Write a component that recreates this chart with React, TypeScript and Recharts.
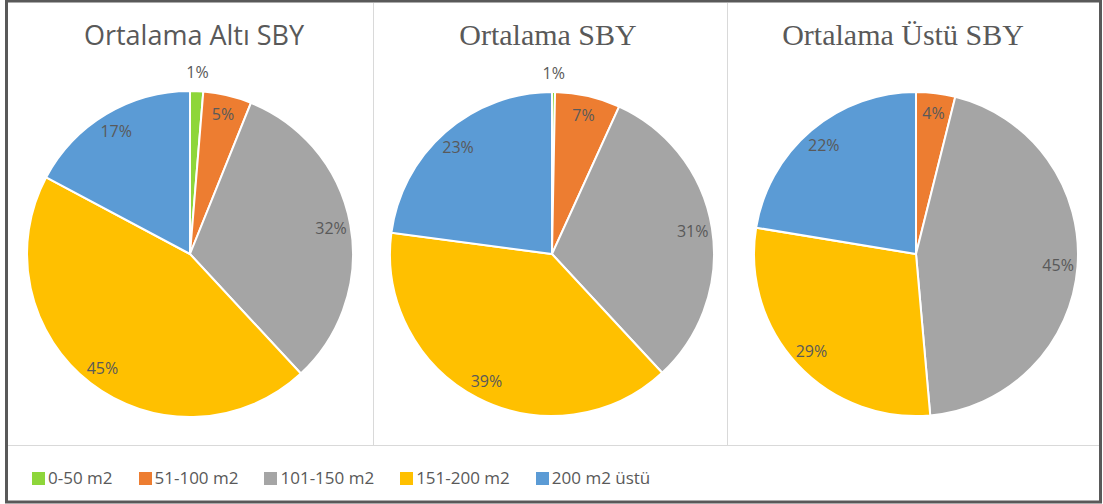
import { Pie, PieChart, Cell } from "recharts";

const categories = ["0-50 m2", "51-100 m2", "101-150 m2", "151-200 m2", "200 m2 üstü"];
const COLORS = ["#8ED63A", "#ED7D31", "#A5A5A5", "#FFC000", "#5B9BD5"];

const titles = ["Ortalama Altı SBY", "Ortalama SBY", "Ortalama Üstü SBY"];

// slice shares (%)
const altiValues = [1.3, 4.8, 32.0, 44.7, 17.2];
const ortaValues = [0.3, 6.5, 31.3, 39.0, 22.9];
const ustuValues = [0, 3.9, 44.7, 29.0, 22.4];

// printed data labels
const altiLabels = ["1%", "5%", "32%", "45%", "17%"];
const ortaLabels = ["1%", "7%", "31%", "39%", "23%"];
const ustuLabels = ["", "4%", "45%", "29%", "22%"];

const toRows = (values: number[]) => categories.map((name, i) => ({ name, value: values[i] }));

const RAD = Math.PI / 180;
const TEXT = "#595959";

const makeLabel = (labels: string[]) => (p: any) => {
  const { cx, cy, midAngle, outerRadius, index, percent } = p;
  if (!labels[index]) return null;
  const r = percent < 0.02 ? outerRadius + 19 : outerRadius * 0.88;
  const x = cx + r * Math.cos(-midAngle * RAD);
  const y = cy + r * Math.sin(-midAngle * RAD);
  return (
    <text x={x} y={y} fill={TEXT} fontSize={16} fontFamily="Open Sans" textAnchor="middle" dominantBaseline="central">
      {labels[index]}
    </text>
  );
};

const pies = [
  { values: altiValues, labels: altiLabels, cx: 190, r: 163 },
  { values: ortaValues, labels: ortaLabels, cx: 552, r: 162 },
  { values: ustuValues, labels: ustuLabels, cx: 916, r: 162 },
];

export default function App() {
  return (
    <div style={{ position: "absolute", left: 0, top: 0, width: 1103, height: 504, background: "#fff" }}>
      <PieChart
        width={1103}
        height={504}
        margin={{ top: 0, right: 0, bottom: 0, left: 0 }}
        style={{ position: "absolute", left: 0, top: 0 }}
      >
        {pies.map((p, k) => (
          <Pie
            key={k}
            data={toRows(p.values)}
            dataKey="value"
            nameKey="name"
            cx={p.cx}
            cy={254}
            outerRadius={p.r}
            startAngle={90}
            endAngle={-270}
            stroke="#fff"
            strokeWidth={2}
            labelLine={false}
            label={makeLabel(p.labels)}
            isAnimationActive={false}
          >
            {p.values.map((_, i) => (
              <Cell key={i} fill={COLORS[i]} />
            ))}
          </Pie>
        ))}
      </PieChart>

      <svg width={1103} height={504} style={{ position: "absolute", left: 0, top: 0, pointerEvents: "none" }}>
        <line x1={373.5} y1={3} x2={373.5} y2={445} stroke="#d9d9d9" />
        <line x1={727.5} y1={3} x2={727.5} y2={445} stroke="#d9d9d9" />
        <line x1={8} y1={445.5} x2={1099} y2={445.5} stroke="#d9d9d9" />
        <rect x={6.5} y={1} width={1094} height={501} fill="none" stroke="#595959" strokeWidth={3} />
        <text x={194} y={45} textAnchor="middle" fontFamily="Open Sans" fontSize={27} fill={TEXT}>
          {titles[0]}
        </text>
        <text x={548} y={45} textAnchor="middle" fontFamily="Liberation Serif" fontSize={30} fill={TEXT}>
          {titles[1]}
        </text>
        <text x={903} y={45} textAnchor="middle" fontFamily="Liberation Serif" fontSize={30} fill={TEXT}>
          {titles[2]}
        </text>
      </svg>

      <div
        style={{
          position: "absolute",
          left: 32,
          top: 469,
          height: 18,
          display: "flex",
          alignItems: "center",
          gap: 26,
          fontFamily: "Open Sans",
          fontSize: 17,
          color: TEXT,
        }}
      >
        {categories.map((c, i) => (
          <div key={c} style={{ display: "flex", alignItems: "center", gap: 3 }}>
            <span style={{ width: 13, height: 13, background: COLORS[i], display: "inline-block" }} />
            <span style={{ lineHeight: "18px" }}>{c}</span>
          </div>
        ))}
      </div>
    </div>
  );
}
